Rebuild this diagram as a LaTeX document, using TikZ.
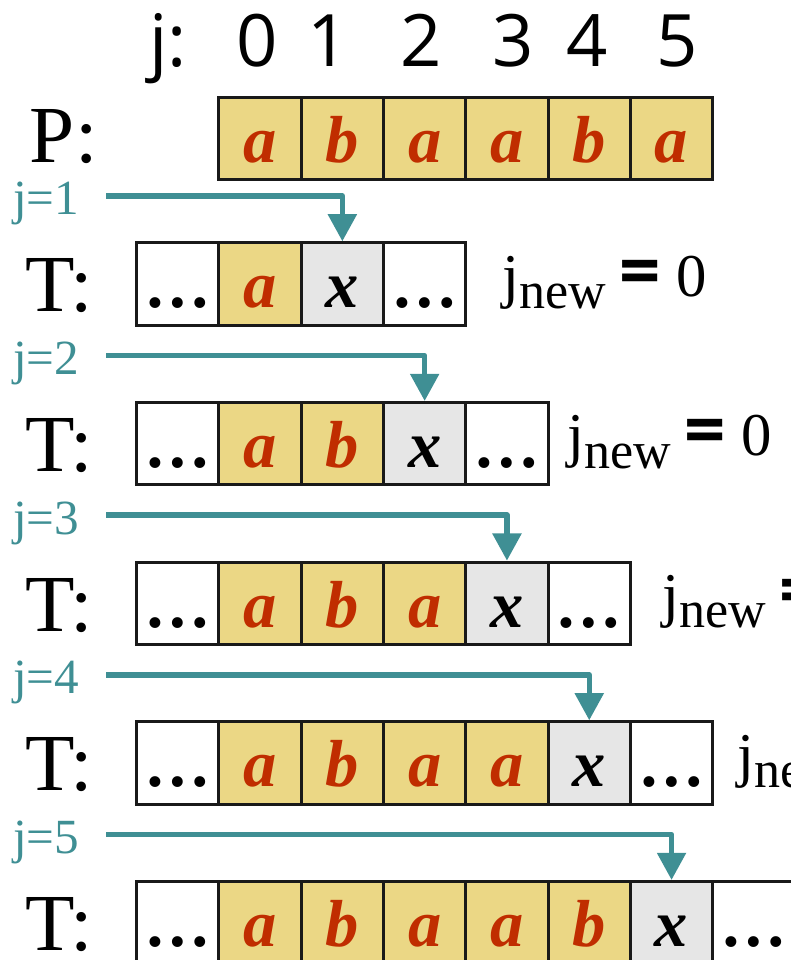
\documentclass[tikz,border=0pt]{standalone}
\usepackage{fontspec}
\setmainfont{Liberation Serif}
\newfontfamily\headfont{Open Sans}
\usetikzlibrary{arrows.meta}

\definecolor{patyellow}{HTML}{EBD785}
\definecolor{letterred}{HTML}{C02D00}
\definecolor{misgray}{HTML}{E6E6E6}
\definecolor{arrowteal}{HTML}{3F8F94}

% j with the "new" subscript, then "= 0"
\newcommand{\jnew}{j\raisebox{-0.15cm}{\fontsize{18}{18}\selectfont new}\hspace{0.16cm}{\headfont\fontsize{25}{25}\selectfont\bfseries =}\hspace{0.2cm}0}

\begin{document}
\begin{tikzpicture}[
            cell/.style={draw=black!90, line width=1pt, minimum width=1cm, minimum height=1cm, inner sep=0pt, text height=0.68cm, text depth=0.1cm, font=\fontsize{23}{23}\selectfont\bfseries\itshape},
            match/.style={cell, fill=patyellow, text=letterred},
            miss/.style={cell, fill=misgray, text=black},
            gap/.style={cell, fill=white, font=\fontsize{23}{23}\selectfont\bfseries},
            rowname/.style={anchor=base west, font=\fontsize{28}{28}\selectfont},
            index/.style={anchor=base, font=\headfont\fontsize{25}{25}\selectfont},
            shift_label/.style={anchor=base, text=arrowteal, font=\fontsize{17}{17}\selectfont},
            result/.style={anchor=base west, font=\fontsize{21}{21}\selectfont},
            jump/.style={draw=arrowteal, line width=1.9pt, line join=round, -{Triangle[width=0.34cm,length=0.33cm]}}
        ]
        \useasboundingbox (0,0) rectangle (9.611,-11.665);
        \clip (0,0) rectangle (9.611,-11.665);

        % Index header
        \node[index] (jhead) at (2.04,-0.81) {j:};
        \node[index] (i0) at (3.13,-0.81) {0};
        \node[index] (i1) at (3.99,-0.81) {1};
        \node[index] (i2) at (5.12,-0.81) {2};
        \node[index] (i3) at (6.23,-0.81) {3};
        \node[index] (i4) at (7.14,-0.81) {4};
        \node[index] (i5) at (8.23,-0.81) {5};

        % Pattern
        \node[rowname] (pname) at (0.24,-1.97) {P:};
        \node[match] (p_0) at (3.16,-1.68) {a};
        \node[match] (p_1) at (4.16,-1.68) {b};
        \node[match] (p_2) at (5.16,-1.68) {a};
        \node[match] (p_3) at (6.16,-1.68) {a};
        \node[match] (p_4) at (7.16,-1.68) {b};
        \node[match] (p_5) at (8.16,-1.68) {a};

        % Text, mismatch after j=1
        \node[shift_label] (j1) at (0.56,-2.61) {j=1};
        \coordinate (s1) at (1.29,-2.38);
        \node[rowname] (tname1) at (0.18,-3.79) {T:};
        \node[gap] (t1_0) at (2.16,-3.45) {…};
        \node[match] (t1_1) at (3.16,-3.45) {a};
        \node[miss] (t1_2) at (4.16,-3.45) {x};
        \node[gap] (t1_3) at (5.16,-3.45) {…};
        \node[result] (new1) at (5.98,-3.60) {\jnew};

        % Text, mismatch after j=2
        \node[shift_label] (j2) at (0.56,-4.55) {j=2};
        \coordinate (s2) at (1.29,-4.32);
        \node[rowname] (tname2) at (0.18,-5.73) {T:};
        \node[gap] (t2_0) at (2.16,-5.39) {…};
        \node[match] (t2_1) at (3.16,-5.39) {a};
        \node[match] (t2_2) at (4.16,-5.39) {b};
        \node[miss] (t2_3) at (5.16,-5.39) {x};
        \node[gap] (t2_4) at (6.16,-5.39) {…};
        \node[result] (new2) at (6.77,-5.54) {\jnew};

        % Text, mismatch after j=3
        \node[shift_label] (j3) at (0.56,-6.49) {j=3};
        \coordinate (s3) at (1.29,-6.26);
        \node[rowname] (tname3) at (0.18,-7.67) {T:};
        \node[gap] (t3_0) at (2.16,-7.33) {…};
        \node[match] (t3_1) at (3.16,-7.33) {a};
        \node[match] (t3_2) at (4.16,-7.33) {b};
        \node[match] (t3_3) at (5.16,-7.33) {a};
        \node[miss] (t3_4) at (6.16,-7.33) {x};
        \node[gap] (t3_5) at (7.16,-7.33) {…};
        \node[result] (new3) at (7.93,-7.48) {\jnew};

        % Text, mismatch after j=4
        \node[shift_label] (j4) at (0.56,-8.43) {j=4};
        \coordinate (s4) at (1.29,-8.20);
        \node[rowname] (tname4) at (0.18,-9.61) {T:};
        \node[gap] (t4_0) at (2.16,-9.27) {…};
        \node[match] (t4_1) at (3.16,-9.27) {a};
        \node[match] (t4_2) at (4.16,-9.27) {b};
        \node[match] (t4_3) at (5.16,-9.27) {a};
        \node[match] (t4_4) at (6.16,-9.27) {a};
        \node[miss] (t4_5) at (7.16,-9.27) {x};
        \node[gap] (t4_6) at (8.16,-9.27) {…};
        \node[result] (new4) at (8.84,-9.42) {\jnew};

        % Text, mismatch after j=5
        \node[shift_label] (j5) at (0.56,-10.37) {j=5};
        \coordinate (s5) at (1.29,-10.14);
        \node[rowname] (tname5) at (0.18,-11.55) {T:};
        \node[gap] (t5_0) at (2.16,-11.21) {…};
        \node[match] (t5_1) at (3.16,-11.21) {a};
        \node[match] (t5_2) at (4.16,-11.21) {b};
        \node[match] (t5_3) at (5.16,-11.21) {a};
        \node[match] (t5_4) at (6.16,-11.21) {a};
        \node[match] (t5_5) at (7.16,-11.21) {b};
        \node[miss] (t5_6) at (8.16,-11.21) {x};
        \node[gap] (t5_7) at (9.16,-11.21) {…};

        \draw[jump] (s1) -| (t1_2.north);
        \draw[jump] (s2) -| (t2_3.north);
        \draw[jump] (s3) -| (t3_4.north);
        \draw[jump] (s4) -| (t4_5.north);
        \draw[jump] (s5) -| (t5_6.north);

    \end{tikzpicture}
\end{document}
